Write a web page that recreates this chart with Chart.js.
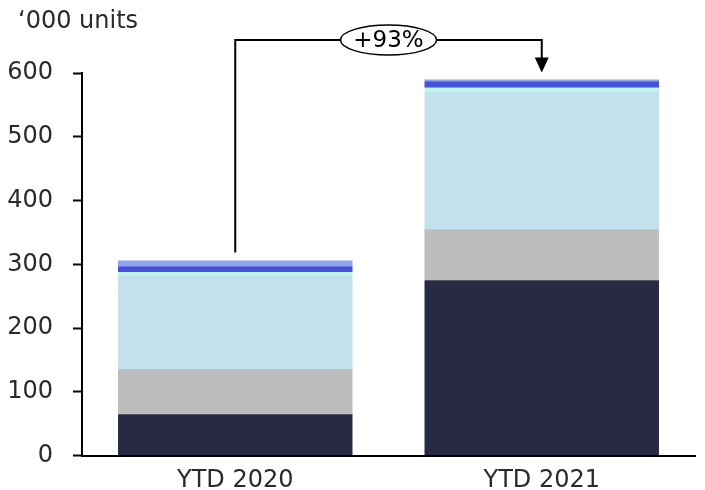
<!DOCTYPE html>
<html>
<head>
<meta charset="utf-8">
<script src="https://cdn.jsdelivr.net/npm/chart.js@4.4.0/dist/chart.umd.min.js"></script>
<style>
    html, body { margin: 0; padding: 0; background: #fff; }
    #wrap { position: relative; width: 705px; height: 490px; }
</style>
</head>
<body>
<div id="wrap"><canvas id="chart" width="705" height="490"></canvas></div>
<script>
// Data ('000 units)
const categories = ['YTD 2020', 'YTD 2021'];
const navySeries = [65, 275];
const greySeries = [71, 80];
const lightBlueSeries = [147, 216];
const aquaSeries = [5, 6];
const blueSeries = [9, 10];
const periwinkleSeries = [9, 3];
const yTicks = [0, 100, 200, 300, 400, 500, 600];
const growthLabel = '+93%';
const unitLabel = '\u2018000 units';

const FONT = '"DejaVu Sans", "Liberation Sans", sans-serif';
const TEXT_COLOR = '#2a2a2a';

// Bracket + arrow between the two bars
const growthPlugin = {
    id: 'growth',
    afterDraw(chart) {
        const ctx = chart.ctx;
        const x = chart.scales.x;
        const y = chart.scales.y;
        const totals = categories.map((c, i) =>
            navySeries[i] + greySeries[i] + lightBlueSeries[i] + aquaSeries[i] + blueSeries[i] + periwinkleSeries[i]);
        const x0 = x.getPixelForValue(0);
        const x1 = x.getPixelForValue(1);
        const yStart = y.getPixelForValue(totals[0]) - 8;
        const yEnd = y.getPixelForValue(totals[1]) - 7;
        const yTop = 40;
        const midX = (x0 + x1) / 2;

        ctx.save();
        ctx.strokeStyle = '#000';
        ctx.lineWidth = 2;
        ctx.beginPath();
        ctx.moveTo(x0, yStart);
        ctx.lineTo(x0, yTop);
        ctx.lineTo(x1, yTop);
        ctx.lineTo(x1, yEnd - 14);
        ctx.stroke();

        // arrow head
        ctx.fillStyle = '#000';
        ctx.beginPath();
        ctx.moveTo(x1 - 7, yEnd - 15);
        ctx.lineTo(x1 + 7, yEnd - 15);
        ctx.lineTo(x1, yEnd);
        ctx.closePath();
        ctx.fill();

        // ellipse label
        ctx.beginPath();
        ctx.ellipse(midX, yTop, 48, 15, 0, 0, Math.PI * 2);
        ctx.fillStyle = '#fff';
        ctx.fill();
        ctx.lineWidth = 1.5;
        ctx.stroke();
        ctx.fillStyle = '#000';
        ctx.font = '23px ' + FONT;
        ctx.textAlign = 'center';
        ctx.textBaseline = 'middle';
        ctx.fillText(growthLabel, midX, yTop + 1);

        // unit label
        ctx.textAlign = 'left';
        ctx.font = '24px ' + FONT;
        ctx.fillStyle = TEXT_COLOR;
        ctx.fillText(unitLabel, 18, 22);
        ctx.restore();
    }
};

function makeSet(label, data, color) {
    return {
        label: label,
        data: data,
        backgroundColor: color,
        borderWidth: 0,
        categoryPercentage: 0.765,
        barPercentage: 1.0
    };
}

const chart = new Chart(document.getElementById('chart').getContext('2d'), {
    type: 'bar',
    data: {
        labels: categories,
        datasets: [
            makeSet('Navy', navySeries, '#282a45'),
            makeSet('Grey', greySeries, '#bdbdbd'),
            makeSet('Light blue', lightBlueSeries, '#c2e1ec'),
            makeSet('Aqua', aquaSeries, '#c0f5e8'),
            makeSet('Blue', blueSeries, '#4650d8'),
            makeSet('Periwinkle', periwinkleSeries, '#8fa3ee')
        ]
    },
    options: {
        responsive: false,
        animation: false,
        layout: {
            padding: { top: 73, right: 10, left: 0, bottom: 0 }
        },
        plugins: {
            legend: { display: false },
            tooltip: { enabled: false }
        },
        scales: {
            x: {
                stacked: true,
                grid: { display: false },
                border: { display: true, color: '#000', width: 2 },
                ticks: {
                    color: TEXT_COLOR,
                    font: { family: FONT, size: 24 },
                    padding: 3
                },
                afterFit(scale) { scale.height = 33; }
            },
            y: {
                stacked: true,
                min: 0,
                max: 600,
                afterBuildTicks(scale) {
                    scale.ticks = yTicks.map(v => ({ value: v }));
                },
                grid: {
                    drawOnChartArea: false,
                    drawTicks: true,
                    tickLength: 9,
                    tickWidth: 2,
                    tickColor: '#000'
                },
                border: { display: true, color: '#000', width: 2 },
                ticks: {
                    color: TEXT_COLOR,
                    font: { family: FONT, size: 24 },
                    padding: 20
                },
                afterFit(scale) { scale.width = 82; }
            }
        }
    },
    plugins: [growthPlugin]
});
</script>
</body>
</html>
